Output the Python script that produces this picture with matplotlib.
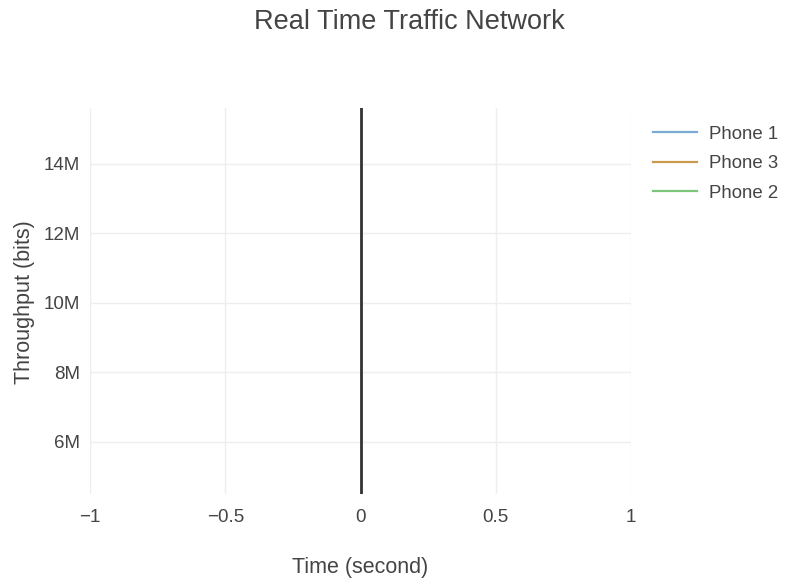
import matplotlib
matplotlib.use('Agg')
import matplotlib.pyplot as plt
from matplotlib.ticker import FuncFormatter

# no samples have arrived yet, only the legend entries exist
series_names = ['Phone 1', 'Phone 3', 'Phone 2']
series_colors = ['#7aa9d6', '#c99a4c', '#7cc67c']
time_phone1 = []
time_phone3 = []
time_phone2 = []
thr_phone1 = []
thr_phone3 = []
thr_phone2 = []

x_ticks = [-1, -0.5, 0, 0.5, 1]
x_tick_labels = ['\u22121', '\u22120.5', '0', '0.5', '1']
y_ticks = [6e6, 8e6, 10e6, 12e6, 14e6]
x_range = (-1, 1)
y_range = (4.5e6, 15.6e6)

txt = '#444444'
plt.rcParams['font.family'] = ['Liberation Sans', 'DejaVu Sans']

fig = plt.figure(figsize=(7.92, 5.81), dpi=100)
ax = fig.add_axes([90 / 792, 1 - 494 / 581, (631 - 90) / 792, (494 - 108) / 581])

times = [time_phone1, time_phone3, time_phone2]
thr = [thr_phone1, thr_phone3, thr_phone2]
for t, v, name, c in zip(times, thr, series_names, series_colors):
    ax.plot(t, v, color=c, lw=1.6, label=name)

ax.set_xlim(*x_range)
ax.set_ylim(*y_range)
ax.set_xticks(x_ticks)
ax.set_xticklabels(x_tick_labels)
ax.set_yticks(y_ticks)
ax.yaxis.set_major_formatter(FuncFormatter(lambda v, p: '%dM' % round(v / 1e6)))
ax.grid(True, color='#eeeeee', lw=1)
ax.set_axisbelow(True)
ax.axvline(0, color='#333333', lw=2, zorder=3)
for s in ax.spines.values():
    s.set_visible(False)
ax.tick_params(length=0, colors=txt, labelsize=13.5)
ax.tick_params(axis='y', pad=7)
ax.tick_params(axis='x', pad=11)

fig.text(409 / 792, 1 - 22 / 581, 'Real Time Traffic Network', ha='center', va='center',
         fontsize=19.5, color=txt)
fig.text(360 / 792, 1 - 568 / 581, 'Time (second)', ha='center', va='center',
         fontsize=15.5, color=txt)
fig.text(25 / 792, 1 - 302 / 581, 'Throughput (bits)', ha='center', va='center',
         rotation=90, fontsize=15.5, color=txt)

leg = ax.legend(loc='upper left', bbox_to_anchor=(636 / 792, 1 - 109 / 581),
                bbox_transform=fig.transFigure, frameon=False, fontsize=13.4,
                handlelength=2.4, labelspacing=0.67, handletextpad=0.6)
for t in leg.get_texts():
    t.set_color(txt)

fig.savefig('out.png', dpi=100, facecolor='white')
